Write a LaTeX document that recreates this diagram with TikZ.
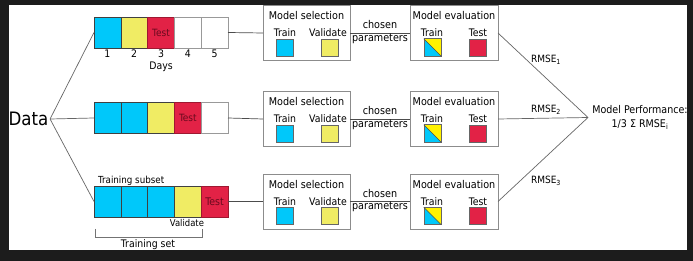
\documentclass[tikz,border=0pt]{standalone}
\usepackage{fontspec}
\setmainfont{DejaVu Sans Condensed}
\begin{document}
\begin{tikzpicture}[x=1pt,y=-1pt,
  fs/.style={font=\fontsize{#1}{#1}\selectfont},
  cell/.style={draw=black!75, line width=0.6pt, minimum width=26.8pt, minimum height=31pt, inner sep=0pt, outer sep=0pt},
  cyancell/.style={cell, fill=cyanc},
  yellowcell/.style={cell, fill=yellowc},
  redcell/.style={cell, fill=redc, draw=redc!70!black, text=testtext, fs=10},
  whitecell/.style={cell, fill=white, draw=gray!80},
  modelbox/.style={draw=gray!90, line width=0.9pt, minimum height=55pt, inner sep=0pt, outer sep=0pt},
  sq/.style={draw=black!60, line width=0.5pt, minimum size=17pt, inner sep=0pt},
  lbl/.style={inner sep=0pt, fs=10.4},
  conn/.style={draw=black!70, line width=0.7pt},
  dconn/.style={draw=black!60, line width=0.7pt},
]
\definecolor{cyanc}{HTML}{00C8FA}
\definecolor{yellowc}{HTML}{F0EC64}
\definecolor{redc}{HTML}{E22246}
\definecolor{testtext}{HTML}{6A0A1E}
\definecolor{bgdark}{HTML}{1C1C1C}
\definecolor{splity}{HTML}{FFF200}

\useasboundingbox (0,0) rectangle (693,261);
\fill[bgdark] (0,0) rectangle (693,261);
\fill[white] (9,5) rectangle (687,250);

% Data
\node[fs=18.5, inner sep=1.5pt] (data) at (28.5,119) {Data};

% Row 1 cells
\node[cyancell]   (r1c1) at (107.4,32.5) {};
\node[yellowcell] (r1c2) at (134.2,32.5) {};
\node[redcell]    (r1c3) at (161.0,32.5) {Test};
\node[whitecell]  (r1c4) at (187.8,32.5) {};
\node[whitecell]  (r1c5) at (214.6,32.5) {};
\node[lbl] (n1) at (107.4,54) {1};
\node[lbl] (n2) at (134.2,54) {2};
\node[lbl] (n3) at (161.0,54) {3};
\node[lbl] (n4) at (187.8,54) {4};
\node[lbl] (n5) at (214.6,54) {5};
\node[lbl] (days) at (161.0,67) {Days};

% Row 2 cells
\node[cyancell]   (r2c1) at (107.4,118) {};
\node[cyancell]   (r2c2) at (134.2,118) {};
\node[yellowcell] (r2c3) at (161.0,118) {};
\node[redcell]    (r2c4) at (187.8,118) {Test};
\node[whitecell]  (r2c5) at (214.6,118) {};

% Row 3 cells
\node[cyancell]   (r3c1) at (107.4,201.5) {};
\node[cyancell]   (r3c2) at (134.2,201.5) {};
\node[cyancell]   (r3c3) at (161.0,201.5) {};
\node[yellowcell] (r3c4) at (187.8,201.5) {};
\node[redcell, fs=10.5] (r3c5) at (214.6,201.5) {Test};
\node[lbl, fs=9.7, anchor=west] (tsub) at (98,181) {Training subset};
\node[lbl, fs=9.4] (tval) at (187,223) {Validate};
\coordinate (bl) at (95,229);
\coordinate (br) at (202,229);
\draw[draw=black!55, line width=0.6pt] (bl) -- ++(0,8) -| (br);
\node[lbl, fs=10.4] (tset) at (148,245) {Training set};

% Data connectors
\draw[dconn] (data.east) -- (r1c1.west);
\draw[dconn] (data.east) -- (r2c1.west);
\draw[dconn] (data.east) -- (r3c1.west);

% Model boxes, three rows
\foreach \r/\y in {1/33, 2/119, 3/201.5} {
  \node[modelbox, minimum width=87pt] (ms\r) at (306.5,\y) {};
  \node[lbl, fs=10.7] (mst\r) at (306.5,\y-17) {Model selection};
  \node[lbl] (mstr\r) at (285,\y) {Train};
  \node[lbl] (msva\r) at (328,\y) {Validate};
  \node[sq, fill=cyanc] (mssq1\r) at (284.5,\y+14.5) {};
  \node[sq, fill=yellowc] (mssq2\r) at (330,\y+14.5) {};

  \node[modelbox, minimum width=88pt] (me\r) at (454,\y) {};
  \node[lbl, fs=10.7] (met\r) at (454,\y-17) {Model evaluation};
  \node[lbl] (metr\r) at (432,\y) {Train};
  \node[lbl] (mete\r) at (478,\y) {Test};
  \node[sq, fill=cyanc] (mesq1\r) at (432.5,\y+14.5) {};
  \fill[splity] (mesq1\r.north west) -- (mesq1\r.north east) -- (mesq1\r.south east) -- cycle;
  \draw[draw=black!60, line width=0.5pt] (mesq1\r.north west) rectangle (mesq1\r.south east);
  \draw[draw=black!70, line width=0.5pt] (mesq1\r.north west) -- (mesq1\r.south east);
  \node[sq, fill=redc] (mesq2\r) at (477.5,\y+14.5) {};

  \draw[conn] (ms\r.east) -- (me\r.west)
    node[pos=0.5, lbl, fs=10.7, yshift=8pt] {chosen}
    node[pos=0.5, lbl, fs=10.7, yshift=-5.5pt] {parameters};
}

% Row connectors from cells to model selection
\draw[conn] (r1c5.east) -- (ms1.west);
\draw[conn] (r2c5.east) -- (ms2.west);
\draw[conn] (r3c5.east) -- (ms3.west);

% Performance
\coordinate (perf) at (588,117.5);
\draw[dconn] (me1.east) -- (perf);
\draw[dconn] (me2.east) -- (perf);
\draw[dconn] (me3.east) -- (perf);
\node[lbl, fs=10] (rm1) at (546,60) {RMSE\textsubscript{1}};
\node[lbl, fs=10] (rm2) at (546,110) {RMSE\textsubscript{2}};
\node[lbl, fs=10] (rm3) at (546,181) {RMSE\textsubscript{3}};
\node[inner sep=0pt, align=center, font=\fontsize{10.6}{14}\selectfont] (perftext) at (640,117.5)
  {Model Performance:\\1/3 Σ RMSE\textsubscript{i}};
\end{tikzpicture}
\end{document}
